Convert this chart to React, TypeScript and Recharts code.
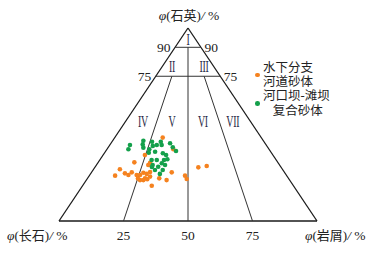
import React from 'react'
import { ScatterChart, Scatter, XAxis, YAxis, ReferenceLine, ReferenceDot, Legend, Label } from 'recharts'

type QFL = [number, number, number] // 石英 Q, 长石 F, 岩屑 L (%)

// 水下分支河道砂体
const channelQFL: QFL[] = [
  [43.2, 38.2, 18.6], [34.2, 49.6, 16.2], [37.2, 37.1, 25.7], [30.4, 55.6, 14.0],
  [29.0, 50.9, 20.1], [26.8, 63.0, 10.2], [23.5, 66.5, 10.0], [24.7, 62.1, 13.2],
  [23.8, 61.2, 15.0], [25.2, 59.2, 15.6], [23.8, 58.0, 18.2], [23.8, 56.7, 19.5],
  [25.0, 54.8, 20.2], [24.4, 53.8, 21.8], [22.1, 55.6, 22.3], [21.2, 58.0, 20.8],
  [21.2, 56.7, 22.1], [21.6, 55.0, 23.4], [23.0, 53.2, 23.8], [18.3, 54.9, 26.8],
  [25.2, 43.7, 31.1], [21.2, 47.7, 31.1], [22.1, 50.1, 27.8], [23.5, 39.4, 37.1],
  [21.8, 39.6, 38.6], [27.8, 32.1, 40.1], [28.5, 28.5, 43.0], [25.4, 52.0, 22.6],
  [22.0, 58.4, 19.6], [30.2, 49.6, 20.2],
]

// 河口坝-滩坝复合砂体
const barQFL: QFL[] = [
  [39.4, 52.8, 7.8], [37.2, 54.5, 8.3], [41.6, 46.5, 11.9], [39.7, 47.7, 12.6],
  [38.0, 48.3, 13.7], [41.1, 43.4, 15.5], [38.9, 44.2, 16.9], [37.2, 46.4, 16.4],
  [35.4, 47.5, 17.1], [39.4, 42.4, 18.2], [41.1, 40.0, 18.9], [39.4, 40.5, 20.1],
  [40.3, 36.8, 22.9], [38.2, 36.8, 25.0], [36.3, 36.5, 27.2], [35.9, 44.8, 19.3],
  [35.1, 42.2, 22.7], [34.2, 41.4, 24.4], [32.0, 42.0, 26.0], [31.6, 43.5, 24.9],
  [29.9, 45.2, 24.9], [31.6, 46.3, 22.1], [31.6, 48.3, 20.1], [29.0, 49.2, 21.8],
  [28.1, 47.5, 24.4], [26.4, 46.6, 27.0], [26.4, 49.6, 24.0], [24.4, 48.7, 26.9],
  [29.0, 44.4, 26.6], [28.0, 50.0, 22.0],
]

const legendLines = [
  ['水下分支', '河道砂体'],
  ['河口坝-滩坝', '复合砂体'],
]
const colors = ['#f5821f', '#14a04b']

const bottomTicks = [25, 50, 75]
const sideTicks = [90, 75]
const romans: { text: string; at: QFL }[] = [
  { text: 'I', at: [93.8, 3.1, 3.1] },
  { text: 'II', at: [79.8, 16.3, 3.9] },
  { text: 'III', at: [79.8, 3.9, 16.3] },
  { text: 'IV', at: [51.3, 41.8, 6.9] },
  { text: 'V', at: [51.3, 30.6, 18.1] },
  { text: 'VI', at: [51.3, 18.6, 30.1] },
  { text: 'VII', at: [51.3, 7.0, 41.7] },
]

// ternary -> plane (x: 0 at 长石, 100 at 岩屑; y: 石英 %)
const toXY = ([q, f, l]: QFL) => {
  const t = q + f + l
  return { x: ((l + q / 2) / t) * 100, y: (q / t) * 100 }
}

const outline: [QFL, QFL][] = [
  [[0, 100, 0], [0, 0, 100]],
  [[0, 100, 0], [100, 0, 0]],
  [[0, 0, 100], [100, 0, 0]],
]
const dividers: [QFL, QFL][] = [
  [[90, 10, 0], [90, 0, 10]],
  [[75, 25, 0], [75, 0, 25]],
  [[90, 5, 5], [0, 50, 50]],
  [[75, 18.75, 6.25], [0, 75, 25]],
  [[75, 6.25, 18.75], [0, 25, 75]],
]

const serif = "'Liberation Serif', 'Times New Roman', 'Noto Sans CJK SC', serif"
const cjk = "'Liberation Serif', 'Noto Sans CJK SC', serif"

const textAt = (content: React.ReactNode, dx: number, dy: number, anchor: 'start' | 'middle' | 'end', style: any = {}) =>
  (props: any) => {
    const vb = props.viewBox ?? {}
    const x = (vb.x ?? 0) + (vb.width ?? 0) / 2 + dx
    const y = (vb.y ?? 0) + (vb.height ?? 0) / 2 + dy
    return (
      <text x={x} y={y} textAnchor={anchor} fill="#222" fontSize={13.5} fontFamily={serif} {...style}>
        {content}
      </text>
    )
  }

const axisTitle = (name: string) => (
  <>
    <tspan fontStyle="italic">φ</tspan>
    <tspan fontFamily={cjk} fontSize={13}>({name})</tspan>
    <tspan fontStyle="italic">/</tspan>
    <tspan> %</tspan>
  </>
)

const romanAt = (text: string) => (props: any) => {
  const vb = props.viewBox ?? {}
  const x = (vb.x ?? 0) + (vb.width ?? 0) / 2
  const y = (vb.y ?? 0) + (vb.height ?? 0) / 2 + 5.5
  return (
    <text transform={`translate(${x},${y}) scale(0.62,1)`} textAnchor="middle" fill="#2b2b48"
      fontSize={16} fontFamily={serif} letterSpacing={-0.5}>
      {text}
    </text>
  )
}

function LegendBox() {
  return (
    <div style={{ fontFamily: cjk, fontSize: 12.5, lineHeight: '14.4px', color: '#222' }}>
      {legendLines.map((lines, i) => (
        <div key={i} style={{ display: 'flex', alignItems: 'center' }}>
          <span style={{ width: 4.6, height: 4.6, borderRadius: '50%', background: colors[i], marginLeft: 3, marginRight: 3.5, flex: 'none' }} />
          <div>
            {lines.map((ln, j) => (
              <div key={j} style={{ paddingLeft: i === 1 && j === 1 ? 9.6 : 0, whiteSpace: 'nowrap' }}>{ln}</div>
            ))}
          </div>
        </div>
      ))}
    </div>
  )
}

const dot = (color: string) => (p: any) => <circle cx={p.cx} cy={p.cy} r={2.3} fill={color} />

export default function App() {
  const seg = ([a, b]: [QFL, QFL]) => [toXY(a), toXY(b)]
  return (
    <div style={{ position: 'absolute', left: 0, top: 0, width: 389, height: 255, background: '#fff' }}>
      <ScatterChart width={389} height={255} margin={{ top: 28, right: 72, bottom: 34, left: 59 }}>
        <XAxis type="number" dataKey="x" domain={[0, 100]} hide />
        <YAxis type="number" dataKey="y" domain={[0, 100]} hide />
        {outline.map((s, i) => (
          <ReferenceLine key={'o' + i} segment={seg(s)} stroke="#1a1a1a" strokeWidth={1.3} ifOverflow="visible" />
        ))}
        {dividers.map((s, i) => (
          <ReferenceLine key={'d' + i} segment={seg(s)} stroke="#333" strokeWidth={1} ifOverflow="visible" />
        ))}
        <Scatter name="水下分支河道砂体" data={channelQFL.map(toXY)} fill={colors[0]} shape={dot(colors[0])} isAnimationActive={false} />
        <Scatter name="河口坝-滩坝复合砂体" data={barQFL.map(toXY)} fill={colors[1]} shape={dot(colors[1])} isAnimationActive={false} />
        {/* 顶点及轴标题 */}
        <ReferenceDot {...toXY([100, 0, 0])} r={0} fill="none" stroke="none">
          <Label content={textAt(axisTitle('石英'), 1, -8.5, 'middle')} />
        </ReferenceDot>
        <ReferenceDot {...toXY([0, 100, 0])} r={0} fill="none" stroke="none">
          <Label content={textAt(axisTitle('长石'), -52, 19, 'start')} />
        </ReferenceDot>
        <ReferenceDot {...toXY([0, 0, 100])} r={0} fill="none" stroke="none">
          <Label content={textAt(axisTitle('岩屑'), -12, 19, 'start')} />
        </ReferenceDot>
        {bottomTicks.map((t) => (
          <ReferenceDot key={'b' + t} {...toXY([0, 100 - t, t])} r={0} fill="none" stroke="none">
            <Label content={textAt(String(t), 0, 19, 'middle')} />
          </ReferenceDot>
        ))}
        {sideTicks.map((t) => (
          <ReferenceDot key={'l' + t} {...toXY([t, 100 - t, 0])} r={0} fill="none" stroke="none">
            <Label content={textAt(String(t), -4.5, 4.8, 'end')} />
          </ReferenceDot>
        ))}
        {sideTicks.map((t) => (
          <ReferenceDot key={'r' + t} {...toXY([t, 0, 100 - t])} r={0} fill="none" stroke="none">
            <Label content={textAt(String(t), 3.5, 4.8, 'start')} />
          </ReferenceDot>
        ))}
        {romans.map((r) => (
          <ReferenceDot key={r.text} {...toXY(r.at)} r={0} fill="none" stroke="none">
            <Label content={romanAt(r.text)} />
          </ReferenceDot>
        ))}
        <Legend
          layout="horizontal"
          verticalAlign="middle"
          align="center"
          wrapperStyle={{ left: 252, top: 60.5, width: 130, height: 'auto' }}
          content={() => <LegendBox />}
        />
      </ScatterChart>
    </div>
  )
}
